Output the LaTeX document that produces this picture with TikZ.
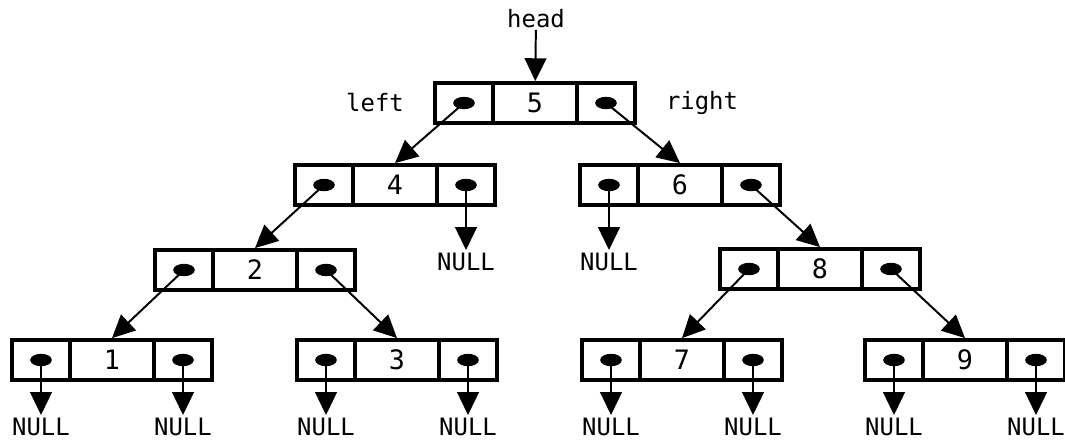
\documentclass[tikz,border=0pt]{standalone}
\usepackage{fontspec}
\setmainfont{DejaVu Sans Mono}
\usetikzlibrary{arrows.meta}

\begin{document}
\begin{tikzpicture}[x=0.025cm, y=-0.025cm,
    cell/.style={draw, line width=2.7pt, minimum height=1cm, inner sep=0pt,
                 font=\fontsize{19}{21}\selectfont},
    side/.style={cell, minimum width=1.45cm},
    mid/.style={cell, minimum width=2.1cm},
    ptr/.style={-{Triangle[length=0.57cm, width=0.54cm]}, line width=1.4pt},
    nul/.style={inner sep=2pt, font=\fontsize{17}{18}\selectfont},
    tag/.style={inner sep=1pt, font=\fontsize{17}{20}\selectfont}]
  \useasboundingbox (0,0) rectangle (1065,441);
  % one record per tree node: value/centre
  \foreach \v/\x/\y in {5/535/103, 4/395/185, 6/680/185, 2/255/270,
      8/820/269, 1/112/360, 3/397/360, 7/682/360, 9/965/360} {
    \node[mid] (c\v) at (\x,\y) {\v};
    \node[side] (l\v) at (\x-71,\y) {};
    \node[side] (r\v) at (\x+71,\y) {};
    \fill (l\v) ellipse [x radius=0.27cm, y radius=0.155cm];
    \fill (r\v) ellipse [x radius=0.27cm, y radius=0.155cm];
  }
  \node[tag] (hd) at (536,19) {head};
  \node[tag] (lt) at (375,103) {left};
  \node[tag] (rt) at (702,103) {right};
  \draw[ptr] (hd) -- (c5);
  % child links
  \draw[ptr] (l5.center) -- (c4.north);
  \draw[ptr] (r5.center) -- (c6.north);
  \draw[ptr] (l4.center) -- (c2.north);
  \draw[ptr] (r6.center) -- (c8.north);
  \draw[ptr] (l2.center) -- (c1.north);
  \draw[ptr] (r2.center) -- (c3.north);
  \draw[ptr] (l8.center) -- (c7.north);
  \draw[ptr] (r8.center) -- (c9.north);
  % empty links
  \node[nul] (n4) at (466,262) {NULL};
  \node[nul] (n6) at (609,262) {NULL};
  \draw[ptr] (r4.center) -- (n4);
  \draw[ptr] (l6.center) -- (n6);
  \foreach \v in {1,3,7,9} {
    \path (l\v) ++(0,67) node[nul] (nl\v) {NULL};
    \path (r\v) ++(0,67) node[nul] (nr\v) {NULL};
    \draw[ptr] (l\v.center) -- (nl\v);
    \draw[ptr] (r\v.center) -- (nr\v);
  }
\end{tikzpicture}
\end{document}
